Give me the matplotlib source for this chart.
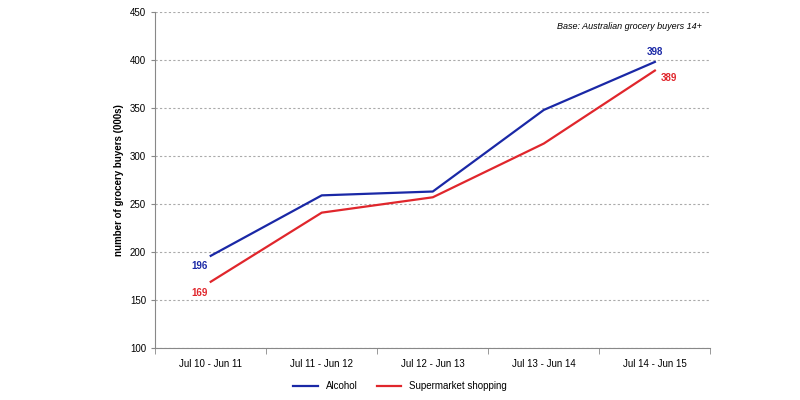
import matplotlib.pyplot as plt
from matplotlib.ticker import FixedLocator

periods = ['Jul 10 - Jun 11', 'Jul 11 - Jun 12', 'Jul 12 - Jun 13', 'Jul 13 - Jun 14', 'Jul 14 - Jun 15']
alcohol = [196, 259, 263, 348, 398]
supermarket = [169, 241, 257, 313, 389]

blue = '#1a28a6'
red = '#e0262c'

plt.rcParams['font.family'] = 'Liberation Sans'
fig = plt.figure(figsize=(8, 4), dpi=100)
ax = fig.add_axes([0.194, 0.13, 0.694, 0.84])

x = range(len(periods))
ax.plot(x, alcohol, color=blue, lw=1.6, label='Alcohol')
ax.plot(x, supermarket, color=red, lw=1.6, label='Supermarket shopping')

# end labels
ax.text(-0.03, alcohol[0] - 5, str(alcohol[0]), color=blue, fontsize=7, fontweight='bold', ha='right', va='top')
ax.text(-0.03, supermarket[0] - 6, str(supermarket[0]), color=red, fontsize=7, fontweight='bold', ha='right', va='top')
ax.text(4, alcohol[4] + 5, str(alcohol[4]), color=blue, fontsize=7, fontweight='bold', ha='center', va='bottom')
ax.text(4.05, supermarket[4] - 3, str(supermarket[4]), color=red, fontsize=7, fontweight='bold', ha='left', va='top')

ax.set_xlim(-0.5, 4.5)
ax.set_ylim(100, 450)
ax.set_yticks(range(100, 451, 50))
ax.set_xticks(list(x))
ax.set_xticklabels(periods)
ax.xaxis.set_minor_locator(FixedLocator([i - 0.5 for i in range(6)]))
ax.tick_params(axis='x', which='major', length=0, labelsize=7, pad=8)
ax.tick_params(axis='x', which='minor', length=4, color='#888888')
ax.tick_params(axis='y', labelsize=7, length=3, color='#888888')
ax.grid(axis='y', linestyle=(0, (2, 2)), color='#aaaaaa', lw=0.8)
ax.set_axisbelow(True)
for s in ['top', 'right']:
    ax.spines[s].set_visible(False)
ax.spines['left'].set_color('#888888')
ax.spines['bottom'].set_color('#888888')

ax.set_ylabel('number of grocery buyers (000s)', fontsize=7, fontweight='bold')
ax.text(0.985, 0.97, 'Base: Australian grocery buyers 14+', transform=ax.transAxes,
        fontsize=6.5, style='italic', ha='right', va='top')

fig.legend(loc='lower center', bbox_to_anchor=(0.5, 0.0), ncol=2, frameon=False, fontsize=7,
           handlelength=2.5)

fig.savefig('out.png')
